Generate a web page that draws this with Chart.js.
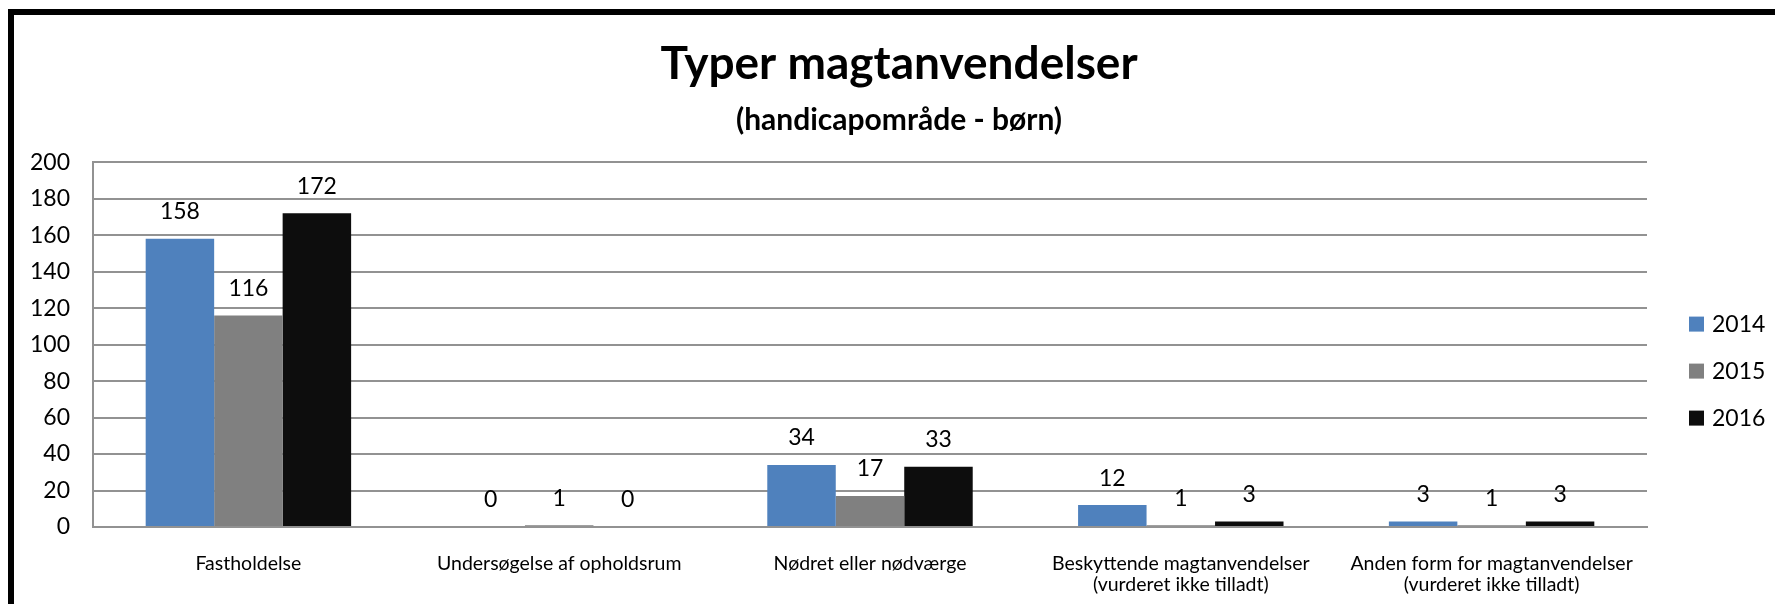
<!DOCTYPE html>
<html>
<head>
<meta charset="utf-8">
<title>Typer magtanvendelser</title>
<script src="https://cdn.jsdelivr.net/npm/chart.js@4.4.1/dist/chart.umd.min.js"></script>
<style>
html, body { margin: 0; padding: 0; background: #fff; overflow: hidden; }
#wrap { position: absolute; left: 0; top: 0; width: 1775px; height: 604px; }
#frame { position: absolute; left: 8px; top: 9px; width: 2000px; height: 1000px; border: 6px solid #000; pointer-events: none; }
</style>
</head>
<body>
<div id="wrap"><canvas id="chart"></canvas></div>
<div id="frame"></div>
<script>
const categories = [
    "Fastholdelse",
    "Undersøgelse af opholdsrum",
    "Nødret eller nødværge",
    ["Beskyttende magtanvendelser", "(vurderet ikke tilladt)"],
    ["Anden form for magtanvendelser", "(vurderet ikke tilladt)"]
];
const years = ["2014", "2015", "2016"];
const values2014 = [158, 0, 34, 12, 3];
const values2015 = [116, 1, 17, 1, 1];
const values2016 = [172, 0, 33, 3, 3];
const yMin = 0;
const yMax = 200;
const yStep = 20;
const barColors = ["#4F81BD", "#808080", "#0D0D0D"];

const FONT = "Lato, 'Open Sans', sans-serif";
const gridColor = "#929292";

// value labels above each bar
const valueLabels = {
    id: "valueLabels",
    afterDatasetsDraw(chart) {
        const ctx = chart.ctx;
        ctx.save();
        ctx.font = "23px " + FONT;
        ctx.fillStyle = "#000";
        ctx.textAlign = "center";
        ctx.textBaseline = "middle";
        chart.data.datasets.forEach((ds, i) => {
            chart.getDatasetMeta(i).data.forEach((bar, j) => {
                ctx.fillText(ds.data[j], bar.x, bar.y - 27);
            });
        });
        ctx.restore();
    }
};

// legend on the right, square + year
const sideLegend = {
    id: "sideLegend",
    afterDraw(chart) {
        const ctx = chart.ctx;
        const area = chart.chartArea;
        const x = area.right + 42;
        const midY = (area.top + area.bottom) / 2 + 26;
        const gap = 47;
        ctx.save();
        ctx.font = "23px " + FONT;
        ctx.textBaseline = "middle";
        ctx.textAlign = "left";
        chart.data.datasets.forEach((ds, i) => {
            const y = midY + (i - 1) * gap;
            ctx.fillStyle = ds.backgroundColor;
            ctx.fillRect(x, y - 7, 15, 15);
            ctx.fillStyle = "#000";
            ctx.fillText(ds.label, x + 23, y + 1);
        });
        ctx.restore();
    }
};

// title + subtitle are centred on the whole frame, not on the plot
const centreTitles = {
    id: "centreTitles",
    afterLayout(chart) {
        chart.boxes.forEach(b => {
            if (b.position === "top" && b.axis === undefined) {
                b.left = 0;
                b.right = 1798;
            }
        });
    }
};

const chart = new Chart(document.getElementById("chart"), {
    type: "bar",
    data: {
        labels: categories,
        datasets: [
            { label: years[0], data: values2014, backgroundColor: barColors[0] },
            { label: years[1], data: values2015, backgroundColor: barColors[1] },
            { label: years[2], data: values2016, backgroundColor: barColors[2] }
        ]
    },
    options: {
        responsive: true,
        maintainAspectRatio: false,
        animation: false,
        datasets: { bar: { categoryPercentage: 0.661, barPercentage: 1.0 } },
        layout: { padding: { left: 0, right: 128, top: 0, bottom: 0 } },
        plugins: {
            legend: { display: false },
            tooltip: { enabled: false },
            title: {
                display: true,
                text: "Typer magtanvendelser",
                color: "#000",
                font: { family: FONT, size: 46, weight: "bold", lineHeight: 1.2 },
                padding: { top: 37, bottom: 0 }
            },
            subtitle: {
                display: true,
                text: "(handicapområde - børn)",
                color: "#000",
                font: { family: FONT, size: 30, weight: "bold", lineHeight: 1.2 },
                padding: { top: 10, bottom: 24 }
            }
        },
        scales: {
            x: {
                grid: { display: false, drawTicks: false },
                border: { display: true, color: gridColor, width: 2 },
                ticks: {
                    color: "#000",
                    font: { family: FONT, size: 19.5, lineHeight: 1.1 },
                    padding: 26,
                    maxRotation: 0,
                    autoSkip: false
                },
                afterFit(scale) { scale.height = 77; }
            },
            y: {
                min: yMin,
                max: yMax,
                grid: { color: gridColor, lineWidth: 2, drawTicks: false },
                border: { display: true, color: gridColor, width: 2 },
                ticks: {
                    stepSize: yStep,
                    color: "#000",
                    font: { family: FONT, size: 23 },
                    padding: 23
                },
                afterFit(scale) { scale.width = 93; }
            }
        }
    },
    plugins: [valueLabels, sideLegend, centreTitles]
});
</script>
</body>
</html>
